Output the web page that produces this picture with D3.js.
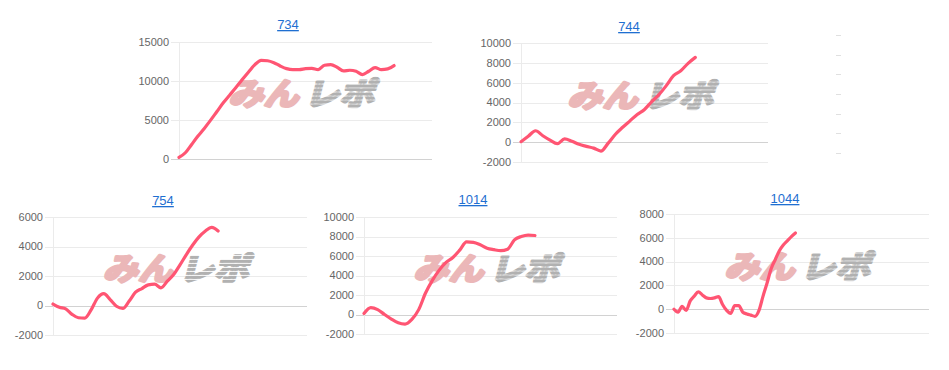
<!DOCTYPE html>
<html lang="ja">
<head>
<meta charset="UTF-8">
<title>グラフ</title>
<style>
  body { margin: 0; background: #fff; }
  svg { display: block; }
  .tick-label { font-family: "Liberation Sans", Arial, sans-serif; font-size: 11px; fill: #666; }
  .title { font-family: "Liberation Sans", Arial, sans-serif; font-size: 13px; fill: #1f6fd1; text-decoration: underline; }
  .wm { font-family: "Noto Sans CJK JP", sans-serif; font-size: 31px; font-weight: 700; paint-order: stroke; stroke-linejoin: round; }
</style>
</head>
<body>
<svg id="chart" width="949" height="370"></svg>

<script src="https://cdn.jsdelivr.net/npm/d3@7"></script>
<script>

// chart data
const titles = ['734', '744', '754', '1014', '1044'];
const labelCounts = [41, 35, 41, 38, 64];

const values734 = [200, 800, 1870, 2940, 3920, 4980, 6090, 7200, 8180, 9160, 10180, 11160, 12100, 12650, 12600,
    12350, 11930, 11590, 11460, 11460, 11590, 11630, 11460, 12020, 12100, 11760, 11290, 11380, 11250, 10820,
    11250, 11720, 11460, 11550, 11980];
const values744 = [50, 600, 1150, 650, 200, -150, 330, 100, -220, -420, -600, -900, -100, 800, 1500, 2150,
    2800, 3300, 4100, 4800, 5700, 6700, 7200, 7950, 8550];
const values754 = [100, -120, -230, -600, -830, -860, -300, 500, 800, 400, -50, -200, 300, 900, 1150, 1400,
    1450, 1200, 1650, 2100, 2750, 3450, 4100, 4650, 5050, 5300, 5050];
const values1014 = [100, 700, 500, 0, -470, -850, -980, -500, 500, 2200, 3500, 4550, 5350, 5850, 6600, 7450,
    7400, 7150, 6800, 6650, 6550, 6700, 7650, 8000, 8150, 8100];
const values1044 = [0, -250, 250, -100, 700, 1100, 1450, 1200, 950, 900, 950, 1050, 400, -100, -350, 300, 300,
    -250, -400, -500, -600, -100, 1100, 2200, 3400, 4150, 4900, 5400, 5750, 6100, 6400];

const ticks734 = [0, 5000, 10000, 15000];
const ticks744 = [-2000, 0, 2000, 4000, 6000, 8000, 10000];
const ticks754 = [-2000, 0, 2000, 4000, 6000];
const ticks1014 = [-2000, 0, 2000, 4000, 6000, 8000, 10000];
const ticks1044 = [-2000, 0, 2000, 4000, 6000, 8000];

// plot boxes on the page
const boxes = [
    { left: 179, right: 432, top: 42, bottom: 159, titleX: 288, titleY: 29 },
    { left: 521, right: 768, top: 43, bottom: 162, titleX: 629, titleY: 31 },
    { left: 53, right: 307, top: 217, bottom: 335, titleX: 163, titleY: 205 },
    { left: 364, right: 617, top: 217, bottom: 334, titleX: 473, titleY: 204 },
    { left: 674, right: 929, top: 214, bottom: 333, titleX: 785, titleY: 203 }
];

const allValues = [values734, values744, values754, values1014, values1044];
const allTicks = [ticks734, ticks744, ticks754, ticks1014, ticks1044];

const svg = d3.select('#chart');

// stripes for the grey half of the watermark
svg.append('defs')
    .append('pattern')
    .attr('id', 'stripes')
    .attr('patternUnits', 'userSpaceOnUse')
    .attr('width', 8)
    .attr('height', 4)
    .append('rect')
    .attr('width', 8)
    .attr('height', 3)
    .attr('fill', '#b1b1b1');

titles.forEach((title, k) => {
    const box = boxes[k];
    const values = allValues[k];
    const ticks = allTicks[k];

    const x = d3.scaleLinear()
        .domain([0, labelCounts[k] - 1])
        .range([box.left, box.right]);

    const y = d3.scaleLinear()
        .domain(d3.extent(ticks))
        .range([box.bottom, box.top]);

    const g = svg.append('g');

    // horizontal grid lines
    g.selectAll('.grid')
        .data(ticks)
        .enter()
        .append('line')
        .attr('x1', box.left - 8)
        .attr('x2', box.right)
        .attr('y1', d => Math.round(y(d)) + 0.5)
        .attr('y2', d => Math.round(y(d)) + 0.5)
        .attr('stroke', d => d === 0 ? '#d2d2d2' : '#ebebeb')
        .attr('stroke-width', 1);

    // y axis line
    g.append('line')
        .attr('x1', box.left + 0.5)
        .attr('x2', box.left + 0.5)
        .attr('y1', y.range()[1])
        .attr('y2', y.range()[0])
        .attr('stroke', '#ebebeb');

    g.selectAll('.tick-label')
        .data(ticks)
        .enter()
        .append('text')
        .attr('class', 'tick-label')
        .attr('x', box.left - 10)
        .attr('y', d => y(d))
        .attr('dy', '0.35em')
        .attr('text-anchor', 'end')
        .text(d => d);

    // watermark
    const cx = (box.left + box.right) / 2 - 1;
    const cy = (box.top + box.bottom) / 2 - 8;
    const wm = g.append('g')
        .attr('transform', `translate(${cx}, ${cy}) skewX(-14)`);

    wm.append('text')
        .attr('class', 'wm')
        .attr('x', -73)
        .attr('y', 12)
        .attr('textLength', 70)
        .attr('lengthAdjust', 'spacingAndGlyphs')
        .attr('fill', '#ebb7b8')
        .attr('stroke', '#ebb7b8')
        .attr('stroke-width', 3)
        .text('みん');

    wm.append('text')
        .attr('class', 'wm')
        .attr('x', 3)
        .attr('y', 12)
        .attr('textLength', 70)
        .attr('lengthAdjust', 'spacingAndGlyphs')
        .attr('fill', 'url(#stripes)')
        .attr('stroke', 'url(#stripes)')
        .attr('stroke-width', 3)
        .text('レポ');

    // data line
    const line = d3.line()
        .x((d, i) => x(i))
        .y(d => y(d))
        .curve(d3.curveMonotoneX);

    g.append('path')
        .datum(values)
        .attr('d', line)
        .attr('fill', 'none')
        .attr('stroke', '#ff5573')
        .attr('stroke-width', 3.2)
        .attr('stroke-linejoin', 'round')
        .attr('stroke-linecap', 'round');

    g.append('text')
        .attr('class', 'title')
        .attr('x', box.titleX)
        .attr('y', box.titleY)
        .attr('text-anchor', 'middle')
        .text(title);
});

// small tick stubs of a chart cut off at the right edge
const ghostTicks = [0, 1, 2, 3, 4, 5, 6];
const ghostY = d3.scaleLinear().domain([0, 6]).range([35, 153]);
svg.selectAll('.ghost')
    .data(ghostTicks)
    .enter()
    .append('line')
    .attr('x1', 836)
    .attr('x2', 841)
    .attr('y1', d => Math.round(ghostY(d)) + 0.5)
    .attr('y2', d => Math.round(ghostY(d)) + 0.5)
    .attr('stroke', '#e0e0e0');

</script>
</body>
</html>
